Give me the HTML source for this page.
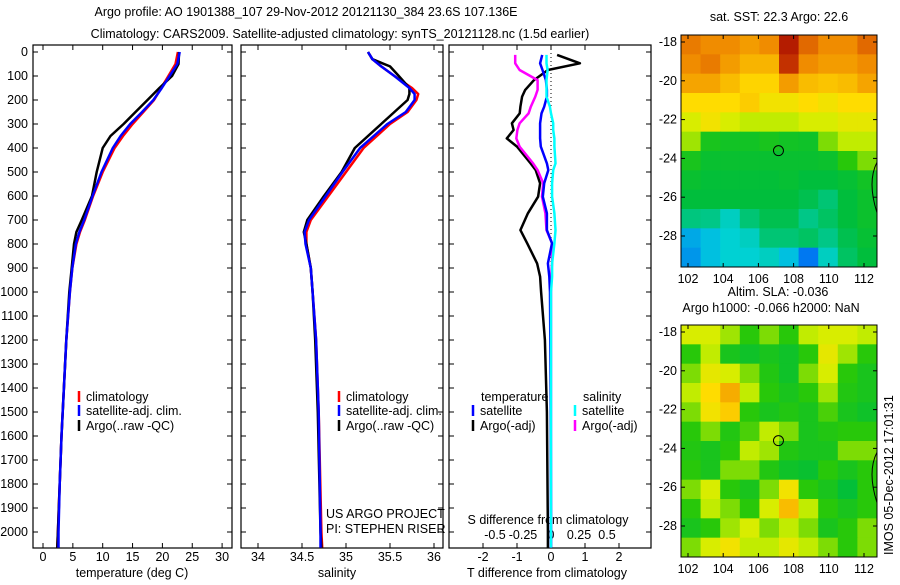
<!DOCTYPE html>
<html><head><meta charset="utf-8"><style>
body{margin:0;background:#fff}
svg text{font-family:"Liberation Sans",sans-serif;font-size:12.5px;fill:#000}
</style></head><body>
<svg id="fig" width="900" height="580" viewBox="0 0 900 580" xmlns="http://www.w3.org/2000/svg">
<text x="306" y="16" text-anchor="middle" font-size="13">Argo profile: AO 1901388_107 29-Nov-2012 20121130_384 23.6S 107.136E</text>
<text x="340" y="38" text-anchor="middle" font-size="13">Climatology: CARS2009. Satellite-adjusted climatology: synTS_20121128.nc (1.5d earlier)</text>
<g id="g"></g>
<text x="893" y="555" transform="rotate(-90 893 555)" font-size="12">IMOS 05-Dec-2012 17:01:31</text>
</svg>
<script>
// ---- data ----
const depthTicks=[0,100,200,300,400,500,600,700,800,900,1000,1100,1200,1300,1400,1500,1600,1700,1800,1900,2000];
const tempTicks=[0,5,10,15,20,25,30];
const salTicks=[34,34.5,35,35.5,36];
const salTickLabels=["34","34.5","35","35.5","36"];
const tdiffTicks=[-2,-1,0,1,2];
const sdiffTicks=[-0.5,-0.25,0,0.25,0.5];
const sdiffLabels=["-0.5","-0.25","0","0.25","0.5"];

const tDepth=[0,50,100,150,200,250,300,350,400,500,600,700,750,800,900,1000,1200,1400,1600,1800,2000,2065];
const tArgo=[22.8,22.7,21.6,19.5,17.5,15.5,13.5,11.3,10.0,9.0,8.2,6.5,5.6,5.2,4.8,4.4,3.9,3.5,3.1,2.8,2.5,2.4];
const tClim=[22.6,22.2,21.0,19.8,18.6,16.8,15.0,13.4,12.0,10.0,8.4,7.0,6.2,5.6,4.9,4.5,3.9,3.5,3.1,2.8,2.5,2.4];
const tSat=[22.9,22.5,21.2,19.9,18.5,16.6,14.6,13.0,11.7,9.8,8.3,6.9,6.1,5.5,4.9,4.5,3.9,3.5,3.1,2.8,2.6,2.6];

const sDepth=[0,30,60,100,150,175,200,250,300,400,500,600,700,750,800,900,1000,1200,1500,2000,2065];
const sArgo=[35.25,35.3,35.5,35.6,35.72,35.72,35.7,35.55,35.4,35.1,34.95,34.75,34.56,34.52,34.55,34.6,34.62,34.65,34.68,34.71,34.72];
const sClim=[35.25,35.3,35.4,35.55,35.75,35.82,35.8,35.7,35.5,35.2,35.0,34.8,34.6,34.55,34.55,34.6,34.62,34.66,34.69,34.72,34.73];
const sSat=[35.25,35.3,35.4,35.55,35.72,35.78,35.78,35.68,35.47,35.16,34.96,34.77,34.58,34.53,34.54,34.6,34.62,34.66,34.69,34.71,34.71];

const dDepth=[12,47,75,117,158,186,228,256,297,325,360,394,464,492,547,603,672,742,797,881,936,1000,1200,1500,2000,2065];
const dTArgo=[0.18,0.85,-0.09,-0.5,-0.76,-0.85,-0.9,-0.92,-1.15,-1.1,-1.3,-1.0,-0.6,-0.45,-0.32,-0.38,-0.68,-0.9,-0.7,-0.41,-0.32,-0.29,-0.18,-0.12,-0.09,-0.09];
const dTSat=[-0.26,-0.32,-0.25,-0.15,-0.12,-0.12,-0.2,-0.28,-0.32,-0.32,-0.32,-0.3,-0.12,-0.08,-0.2,-0.24,-0.12,-0.12,0.03,-0.09,-0.05,-0.03,-0.02,-0.01,0,0];
const dSArgo=[-0.32,-0.32,-0.28,-0.12,-0.12,-0.14,-0.18,-0.2,-0.28,-0.3,-0.31,-0.28,-0.16,-0.12,-0.07,-0.08,-0.05,-0.04,0.01,0.01,0.0,0.0,0.0,0.0,0.0,0.0];
const dSSat=[-0.04,-0.04,-0.03,-0.04,-0.04,-0.04,-0.01,0.0,0.02,0.02,0.03,0.03,0.04,0.02,0.01,0.01,0.03,0.04,0.03,0.01,0.01,0.0,0.0,0.0,0.0,0.0];

const lonTicks=[102,104,106,108,110,112];
const latTicks=[-18,-20,-22,-24,-26,-28];
const sstGrid=[
[.84,.82,.82,.8,.82,.96,.86,.82,.82,.86],
[.82,.84,.8,.77,.77,.93,.82,.8,.8,.82],
[.79,.79,.76,.73,.73,.8,.76,.75,.76,.79],
[.72,.72,.72,.74,.7,.7,.72,.7,.72,.72],
[.66,.7,.66,.64,.64,.64,.66,.66,.68,.68],
[.62,.5,.48,.48,.5,.48,.47,.6,.64,.64],
[.5,.45,.45,.45,.45,.45,.45,.46,.55,.6],
[.45,.43,.43,.43,.43,.44,.42,.42,.44,.48],
[.42,.42,.42,.42,.42,.42,.40,.36,.42,.46],
[.35,.34,.28,.36,.4,.4,.34,.38,.42,.46],
[.18,.22,.26,.28,.36,.36,.38,.34,.40,.44],
[.15,.22,.26,.26,.28,.22,.1,.28,.38,.42]];
const slaGrid=[
[.66,.66,.62,.55,.6,.55,.64,.66,.66,.64],
[.55,.64,.5,.47,.5,.47,.55,.68,.62,.55],
[.6,.68,.66,.6,.53,.47,.6,.66,.55,.5],
[.64,.72,.78,.64,.55,.5,.55,.62,.53,.5],
[.6,.7,.74,.55,.5,.53,.5,.57,.5,.47],
[.55,.6,.53,.57,.64,.6,.5,.53,.55,.55],
[.53,.5,.55,.64,.62,.53,.5,.5,.6,.6],
[.55,.5,.6,.6,.53,.47,.45,.55,.5,.55],
[.6,.66,.55,.5,.6,.7,.55,.5,.43,.55],
[.55,.64,.6,.55,.66,.76,.64,.55,.5,.55],
[.5,.55,.62,.66,.6,.64,.6,.5,.55,.6],
[.6,.66,.7,.64,.64,.68,.64,.6,.55,.6]];
const floatLon=107.14, floatLat=-23.6;

// ---- helpers ----
const NS="http://www.w3.org/2000/svg", G=document.getElementById('g');
function mk(tag,at,parent){const e=document.createElementNS(NS,tag);for(const k in at)e.setAttribute(k,at[k]);(parent||G).appendChild(e);return e;}
function txt(x,y,s,anchor,size){const t=mk('text',{x:x,y:y,'text-anchor':anchor||'start'});if(size)t.setAttribute('font-size',size);t.textContent=s;return t;}
const yTop=52, yPer=0.24;
const yD=d=>yTop+d*yPer;
const PT=45,PB=548;
const panels=[{x0:33,x1:232},{x0:241,x1:443},{x0:449,x1:651}];
const xT=v=>43+v*5.97;
const xS=v=>258+(v-34)*88;
const xdT=v=>551+v*34;
const xdS=v=>551+v*112;

function frame(p,name){
  const r=mk('rect',{x:p.x0,y:PT,width:p.x1-p.x0,height:PB-PT,fill:'none',stroke:'#000','stroke-width':1.2});
  
  
  depthTicks.forEach(d=>{const y=yD(d);mk('line',{x1:p.x0,x2:p.x0+5,y1:y,y2:y,stroke:'#000'});mk('line',{x1:p.x1,x2:p.x1-5,y1:y,y2:y,stroke:'#000'});});
}
function xticks(vals,fx,labels,yl){vals.forEach((v,i)=>{const x=fx(v);mk('line',{x1:x,x2:x,y1:PT,y2:PT+5,stroke:'#000'});mk('line',{x1:x,x2:x,y1:PB,y2:PB-5,stroke:'#000'});const t=txt(x,yl,labels?labels[i]:String(v),'middle');});}
function line(xs,ds,fx,col,w,name){
  const pts=xs.map((v,i)=>fx(v).toFixed(1)+','+yD(ds[i]).toFixed(1)).join(' ');
  const l=mk('polyline',{points:pts,fill:'none',stroke:col,'stroke-width':w||2.5,'stroke-linejoin':'round'});
  
  
}
function legendItem(x,y,col,s,name){mk('line',{x1:x,x2:x,y1:y-10,y2:y+1,stroke:col,'stroke-width':2.5});const t=txt(x+7,y,s);}

// panel 1
frame(panels[0],'temperature-panel');
depthTicks.forEach(d=>{const t=txt(28,yD(d)+4,String(d),'end');});
xticks(tempTicks,xT,null,561);
txt(132,577,'temperature (deg C)','middle');
line(tClim,tDepth,xT,'#ff0000',2.5,'temperature-climatology-line');
line(tArgo,tDepth,xT,'#000',2.5,'temperature-argo-line');
line(tSat,tDepth,xT,'#0000ff',2.5,'temperature-satellite-line');
legendItem(79,401,'#f00','climatology','legend-climatology');
legendItem(79,415,'#00f','satellite-adj. clim.','legend-satellite');
legendItem(79,430,'#000','Argo(..raw -QC)','legend-argo');

// panel 2
frame(panels[1],'salinity-panel');
xticks(salTicks,xS,salTickLabels,561);
txt(337,577,'salinity','middle');
line(sClim,sDepth,xS,'#ff0000',2.5,'salinity-climatology-line');
line(sArgo,sDepth,xS,'#000',2.5,'salinity-argo-line');
line(sSat,sDepth,xS,'#0000ff',2.5,'salinity-satellite-line');
legendItem(339,401,'#f00','climatology','legend-climatology-2');
legendItem(339,415,'#00f','satellite-adj. clim.','legend-satellite-2');
legendItem(339,430,'#000','Argo(..raw -QC)','legend-argo-2');
txt(326,518,'US ARGO PROJECT');
txt(326,533,'PI: STEPHEN RISER');

// panel 3
frame(panels[2],'difference-panel');
xticks(tdiffTicks,xdT,null,561);
sdiffTicks.forEach((v,i)=>{const t=txt(xdS(v),539,sdiffLabels[i],'middle');});
txt(548,524,'S difference from climatology','middle');
txt(547,577,'T difference from climatology','middle');
mk('line',{x1:xdT(0),x2:xdT(0),y1:PT,y2:PB,stroke:'#000','stroke-dasharray':'1,3'});
line(dTArgo,dDepth,xdT,'#000',2.5,'tdiff-argo-line');
line(dSArgo,dDepth,xdS,'#ff00ff',2.5,'sdiff-argo-line');
line(dTSat,dDepth,xdT,'#0000ff',2.5,'tdiff-satellite-line');
line(dSSat,dDepth,xdS,'#00ffff',2.5,'sdiff-satellite-line');
txt(481,401,'temperature');
txt(583,401,'salinity');
legendItem(473,415,'#00f','satellite','legend-t-satellite');
legendItem(473,430,'#000','Argo(-adj)','legend-t-argo');
legendItem(575,415,'#0ff','satellite','legend-s-satellite');
legendItem(575,430,'#f0f','Argo(-adj)','legend-s-argo');

// maps
function cmap(v){const stops=[[0,[0,60,255]],[0.25,[0,210,220]],[0.42,[0,190,60]],[0.55,[40,200,10]],[0.65,[210,240,0]],[0.72,[255,220,0]],[0.82,[240,140,0]],[0.9,[210,70,0]],[1,[160,0,0]]];
  for(let i=1;i<stops.length;i++){if(v<=stops[i][0]){const a=stops[i-1],b=stops[i],f=(v-a[0])/(b[0]-a[0]);return 'rgb('+a[1].map((c,k)=>Math.round(c+(b[1][k]-c)*f)).join(',')+')';}}return 'rgb(160,0,0)';}
function map(top,grid,name,title1,title2){
  const L=681,R=877,T=top,B=top+232;
  const lonX=lo=>688+(lo-102)*17.6, latY=la=>T+7+(-18-la)*19.4;
  const g=mk('g',{});
  const rows=grid.length,cols=grid[0].length,cw=(R-L)/cols,ch=(B-T)/rows;
  grid.forEach((row,r)=>row.forEach((v,c)=>{const cell=mk('rect',{x:L+c*cw,y:T+r*ch,width:cw+0.5,height:ch+0.5,fill:cmap(v)},g);}));
  mk('rect',{x:L,y:T,width:R-L,height:B-T,fill:'none',stroke:'#000'},g);
  lonTicks.forEach(v=>{const x=lonX(v);mk('line',{x1:x,x2:x,y1:T,y2:T+4,stroke:'#000'},g);mk('line',{x1:x,x2:x,y1:B,y2:B-4,stroke:'#000'},g);const t=txt(x,B+16,String(v),'middle');});
  latTicks.forEach(v=>{const y=latY(v);mk('line',{x1:L,x2:L+4,y1:y,y2:y,stroke:'#000'},g);mk('line',{x1:R,x2:R-4,y1:y,y2:y,stroke:'#000'},g);const t=txt(L-4,y+4,String(v),'end');});
  const c=mk('circle',{cx:lonX(floatLon),cy:latY(floatLat),r:5,fill:'none',stroke:'#000'},g);
  
  mk('path',{d:`M${R} ${latY(-24.2)} Q${R-10} ${latY(-25.2)} ${R} ${latY(-26.8)}`,fill:'none',stroke:'#000'},g);
  if(title1){const t=txt(title2?778:779,top-14+(title2?-15:0),title1,'middle');}
  if(title2){const t=txt(771,top-13,title2,'middle');}
}
map(35,sstGrid,'sst-map','sat. SST: 22.3 Argo: 22.6');
map(325,slaGrid,'sla-map','Altim. SLA: -0.036','Argo h1000: -0.066 h2000: NaN');
</script>
</body></html>
